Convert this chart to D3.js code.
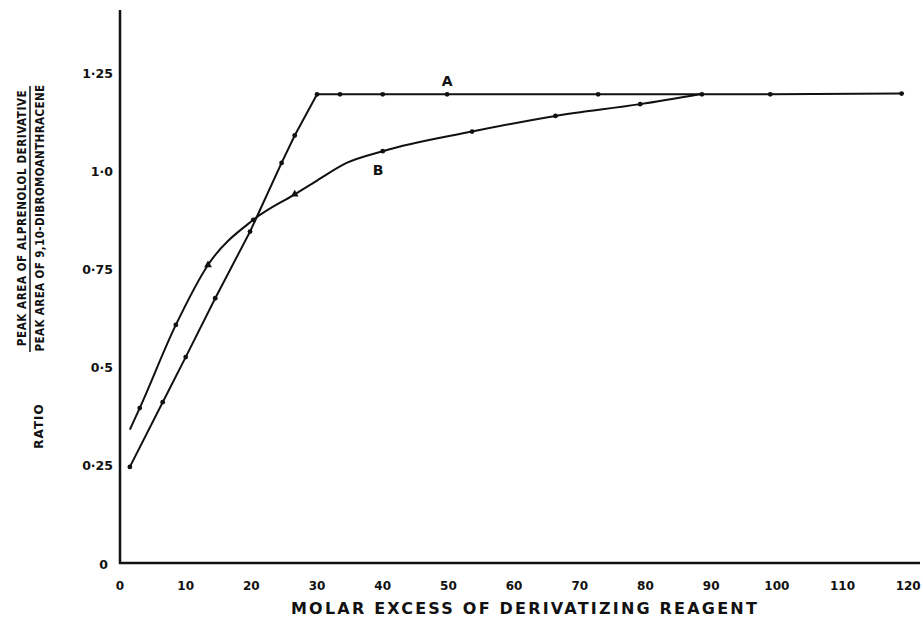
<!DOCTYPE html>
<html>
<head>
<meta charset="utf-8">
<script src="https://cdn.jsdelivr.net/npm/d3@7"></script>
<style>
  body { margin: 0; background: #fff; }
  text { font-family: "DejaVu Sans", sans-serif; font-weight: bold; fill: #111; }
  .cond { font-family: "DejaVu Sans Condensed", "DejaVu Sans", sans-serif; }
</style>
</head>
<body>
<div id="chart"></div>
<script>
// Ratio vs molar excess of derivatizing reagent, curves A and B

const xTicks = [0, 10, 20, 30, 40, 50, 60, 70, 80, 90, 100, 110, 120];
const yTicks = [0.25, 0.5, 0.75, 1.0, 1.25];
const yTickLabels = ['0·25', '0·5', '0·75', '1·0', '1·25'];

// Curve A: straight segments, dot markers
const aX = [1.5, 6.5, 10, 14.5, 19.8, 24.6, 26.6, 30, 33.5, 40, 49.8, 72.8, 88.6, 99, 119];
const aY = [0.245, 0.41, 0.525, 0.675, 0.845, 1.02, 1.09, 1.195, 1.195, 1.195, 1.195, 1.195, 1.195, 1.195, 1.197];

// Curve B: smooth curve, dots and triangles
const bX = [1.5, 3, 8.5, 13.4, 20.3, 26.6, 30, 34.5, 40, 53.6, 66.3, 79.2, 88.5];
const bY = [0.34, 0.395, 0.607, 0.76, 0.875, 0.94, 0.975, 1.02, 1.05, 1.10, 1.14, 1.17, 1.196];
const bMark = ['', 'dot', 'dot', 'tri', 'dot', 'tri', '', '', 'dot', 'dot', 'dot', 'dot', ''];

const width = 923, height = 630;

const svg = d3.select('#chart').append('svg')
    .attr('width', width)
    .attr('height', height);

const x = d3.scaleLinear().domain([0, 121.8]).range([120, 920]);
const y = d3.scaleLinear().domain([0, 1.41]).range([563, 10]);

// Axes (plain thick lines, no tick marks)
svg.append('line')
    .attr('x1', x(0)).attr('x2', x(0))
    .attr('y1', y(1.41)).attr('y2', y(0) + 1)
    .attr('stroke', '#111').attr('stroke-width', 2.5);
svg.append('line')
    .attr('x1', x(0) - 1).attr('x2', x(121.8))
    .attr('y1', y(0)).attr('y2', y(0))
    .attr('stroke', '#111').attr('stroke-width', 2.5);

// x tick labels
svg.append('g').selectAll('text')
    .data(xTicks)
    .enter().append('text')
    .attr('x', d => x(d))
    .attr('y', y(0) + 27)
    .attr('text-anchor', 'middle')
    .attr('font-size', '12px')
    .text(d => d);

// y tick labels
svg.append('g').selectAll('text')
    .data(yTicks)
    .enter().append('text')
    .attr('x', x(0) - 7)
    .attr('y', d => y(d) + 5)
    .attr('text-anchor', 'end')
    .attr('font-size', '12.5px')
    .text((d, i) => yTickLabels[i]);
svg.append('text')
    .attr('x', x(0) - 12)
    .attr('y', y(0) + 6)
    .attr('text-anchor', 'end')
    .attr('font-size', '12.5px')
    .text('0');

// x axis title
svg.append('text')
    .attr('x', 525)
    .attr('y', 614)
    .attr('text-anchor', 'middle')
    .attr('font-size', '16px')
    .attr('letter-spacing', '2.2px')
    .text('MOLAR  EXCESS  OF  DERIVATIZING  REAGENT');

// y axis title: RATIO + fraction, rotated
const yt = svg.append('g');
yt.append('text')
    .attr('transform', 'translate(43,426) rotate(-90)')
    .attr('text-anchor', 'middle')
    .attr('font-size', '12px')
    .attr('letter-spacing', '1px')
    .text('RATIO');
yt.append('text')
    .attr('class', 'cond')
    .attr('transform', 'translate(26,218) rotate(-90)')
    .attr('text-anchor', 'middle')
    .attr('font-size', '11.5px')
    .attr('letter-spacing', '0.6px')
    .text('PEAK AREA OF ALPRENOLOL DERIVATIVE');
yt.append('line')
    .attr('x1', 30).attr('x2', 30)
    .attr('y1', 86).attr('y2', 352)
    .attr('stroke', '#111').attr('stroke-width', 1.5);
yt.append('text')
    .attr('class', 'cond')
    .attr('transform', 'translate(44,218) rotate(-90)')
    .attr('text-anchor', 'middle')
    .attr('font-size', '11.5px')
    .attr('letter-spacing', '0.4px')
    .text('PEAK AREA OF 9,10-DIBROMOANTHRACENE');

// Curves
const aData = aX.map((v, i) => ({ x: v, y: aY[i] }));
const bData = bX.map((v, i) => ({ x: v, y: bY[i], m: bMark[i] }));

const lineA = d3.line().x(d => x(d.x)).y(d => y(d.y)).curve(d3.curveLinear);
const lineB = d3.line().x(d => x(d.x)).y(d => y(d.y)).curve(d3.curveMonotoneX);

svg.append('path')
    .datum(aData)
    .attr('d', lineA)
    .attr('fill', 'none')
    .attr('stroke', '#111')
    .attr('stroke-width', 2);

svg.append('path')
    .datum(bData)
    .attr('d', lineB)
    .attr('fill', 'none')
    .attr('stroke', '#111')
    .attr('stroke-width', 2);

// markers
svg.append('g').selectAll('circle')
    .data(aData)
    .enter().append('circle')
    .attr('cx', d => x(d.x))
    .attr('cy', d => y(d.y))
    .attr('r', 2.4)
    .attr('fill', '#111');

svg.append('g').selectAll('circle')
    .data(bData.filter(d => d.m === 'dot'))
    .enter().append('circle')
    .attr('cx', d => x(d.x))
    .attr('cy', d => y(d.y))
    .attr('r', 2.4)
    .attr('fill', '#111');

svg.append('g').selectAll('path')
    .data(bData.filter(d => d.m === 'tri'))
    .enter().append('path')
    .attr('d', d3.symbol().type(d3.symbolTriangle).size(26))
    .attr('transform', d => `translate(${x(d.x)},${y(d.y)})`)
    .attr('fill', '#111');

// curve labels
svg.append('text')
    .attr('x', x(49.8))
    .attr('y', y(1.195) - 8)
    .attr('text-anchor', 'middle')
    .attr('font-size', '14px')
    .text('A');
svg.append('text')
    .attr('x', x(39.3))
    .attr('y', y(1.005) + 6)
    .attr('text-anchor', 'middle')
    .attr('font-size', '14px')
    .text('B');
</script>
</body>
</html>
